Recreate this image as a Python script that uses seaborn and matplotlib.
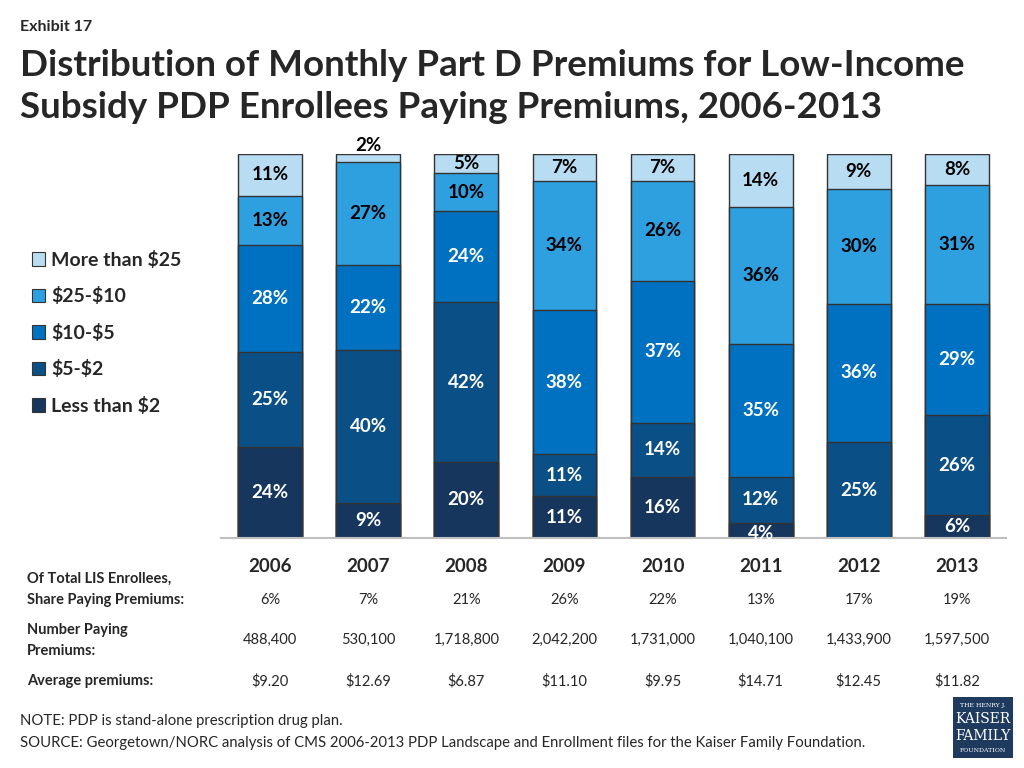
import numpy as np
import pandas as pd
import matplotlib
matplotlib.use("Agg")
import matplotlib.pyplot as plt
import seaborn as sns
from matplotlib.patches import Patch, Rectangle

years = ["2006", "2007", "2008", "2009", "2010", "2011", "2012", "2013"]
categories = ["Less than $2", "$5-$2", "$10-$5", "$25-$10", "More than $25"]
less_than_2 = [24, 9, 20, 11, 16, 4, 0, 6]
from_5_to_2 = [25, 40, 42, 11, 14, 12, 25, 26]
from_10_to_5 = [28, 22, 24, 38, 37, 35, 36, 29]
from_25_to_10 = [13, 27, 10, 34, 26, 36, 30, 31]
more_than_25 = [11, 2, 5, 7, 7, 14, 9, 8]
share_paying = ["6%", "7%", "21%", "26%", "22%", "13%", "17%", "19%"]
number_paying = ["488,400", "530,100", "1,718,800", "2,042,200", "1,731,000",
                 "1,040,100", "1,433,900", "1,597,500"]
avg_premiums = ["$9.20", "$12.69", "$6.87", "$11.10", "$9.95", "$14.71",
                "$12.45", "$11.82"]

colors = ["#17365D", "#0B4F87", "#0070C0", "#2E9FDF", "#B8DDF3"]
label_colors = ["white", "white", "white", "black", "black"]

sns.set_theme(style="white")
plt.rcParams["font.family"] = ["Lato", "DejaVu Sans"]
plt.rcParams["text.parse_math"] = False

series = np.array([less_than_2, from_5_to_2, from_10_to_5, from_25_to_10, more_than_25], dtype=float)
totals = series.sum(axis=0)
norm = series / totals * 100
cum = np.cumsum(norm, axis=0)

fig = plt.figure(figsize=(10.24, 7.68), dpi=100)
ax = fig.add_axes([221/1024, 1-538/768, 785/1024, 384/768])

# draw cumulative layers, tallest first
for i in range(len(categories) - 1, -1, -1):
    df = pd.DataFrame({"year": years, "val": cum[i]})
    sns.barplot(data=df, x="year", y="val", order=years, color=colors[i],
                saturation=1, width=0.65, edgecolor="#333333", linewidth=1.0,
                ax=ax, errorbar=None)

# labels
for j, y in enumerate(years):
    for i in range(len(categories)):
        v = series[i, j]
        if v <= 0:
            continue
        bottom = cum[i, j] - norm[i, j]
        center = bottom + norm[i, j] / 2
        if i == 4 and v <= 2:
            ypos = cum[i, j] + 2.3
            col = "black"
        elif i == 0 and v <= 4:
            ypos = center - 0.7
            col = "white"
        else:
            ypos = center
            col = label_colors[i]
        ax.text(j, ypos, f"{int(v)}%", ha="center", va="center",
                fontsize=13.5, fontweight="bold", color=col)

ax.set_xlim(-0.5, 7.5)
ax.set_ylim(0, 100)
ax.set_xlabel("")
ax.set_ylabel("")
ax.set_yticks([])
ax.set_xticks([])
for s in ["top", "right", "left"]:
    ax.spines[s].set_visible(False)
ax.spines["bottom"].set_color("#BFBFBF")
ax.spines["bottom"].set_linewidth(1.5)

# year labels
for j, y in enumerate(years):
    ax.text(j, -7.3, y, ha="center", va="center", fontsize=13.5, fontweight="bold",
            clip_on=False)

def fx(px):
    return px / 1024

def fy(py):
    return 1 - py / 768

fig.canvas.draw()
for j in range(len(years)):
    xc_fig = fig.transFigure.inverted().transform(ax.transData.transform((j, 0)))[0]
    fig.text(xc_fig, fy(600), share_paying[j], ha="center", va="center", fontsize=10.5)
    fig.text(xc_fig, fy(640), number_paying[j], ha="center", va="center", fontsize=10.5)
    fig.text(xc_fig, fy(681), avg_premiums[j], ha="center", va="center", fontsize=10.5)

fig.text(fx(27), fy(579), "Of Total LIS Enrollees,", ha="left", va="center", fontsize=10.5, fontweight="bold")
fig.text(fx(27), fy(600), "Share Paying Premiums:", ha="left", va="center", fontsize=10.5, fontweight="bold")
fig.text(fx(27), fy(630), "Number Paying", ha="left", va="center", fontsize=10.5, fontweight="bold")
fig.text(fx(27), fy(651), "Premiums:", ha="left", va="center", fontsize=10.5, fontweight="bold")
fig.text(fx(27), fy(681), "Average premiums:", ha="left", va="center", fontsize=10.5, fontweight="bold")

# legend
handles = [Patch(facecolor=colors[i], edgecolor="#333333", linewidth=0.8, label=categories[i])
           for i in range(len(categories) - 1, -1, -1)]
leg = fig.legend(handles=handles, loc="upper left", bbox_to_anchor=(fx(24), fy(243)),
                 frameon=False, prop={"size": 14, "weight": "bold"},
                 handlelength=0.7, handleheight=0.7, handletextpad=0.3,
                 labelspacing=0.95, borderaxespad=0)

# titles
fig.text(fx(20), fy(27), "Exhibit 17", ha="left", va="center", fontsize=11.5, fontweight="bold")
fig.text(fx(20), fy(66), "Distribution of Monthly Part D Premiums for Low-Income",
         ha="left", va="center", fontsize=26.5, fontweight="bold")
fig.text(fx(20), fy(107), "Subsidy PDP Enrollees Paying Premiums, 2006-2013",
         ha="left", va="center", fontsize=26.5, fontweight="bold")

# notes
fig.text(fx(20), fy(721), "NOTE: PDP is stand-alone prescription drug plan.",
         ha="left", va="center", fontsize=10.7)
fig.text(fx(20), fy(743), "SOURCE: Georgetown/NORC analysis of CMS 2006-2013 PDP Landscape and Enrollment files for the Kaiser Family Foundation.",
         ha="left", va="center", fontsize=10.7)

# logo
logo = Rectangle((fx(953), fy(758)), fx(60), 61/768, transform=fig.transFigure,
                 facecolor="#1F3A5F", edgecolor="none")
fig.patches.append(logo)
lx = fx(983)
fig.text(lx, fy(705), "THE HENRY J.", ha="center", va="center", fontsize=4.5, color="white", family="DejaVu Serif")
fig.text(lx, fy(719), "KAISER", ha="center", va="center", fontsize=10, color="white", family="DejaVu Serif")
fig.text(lx, fy(736), "FAMILY", ha="center", va="center", fontsize=10, color="white", family="DejaVu Serif")
fig.text(lx, fy(751), "FOUNDATION", ha="center", va="center", fontsize=4.5, color="white", family="DejaVu Serif")

fig.savefig("out.png", dpi=100)
